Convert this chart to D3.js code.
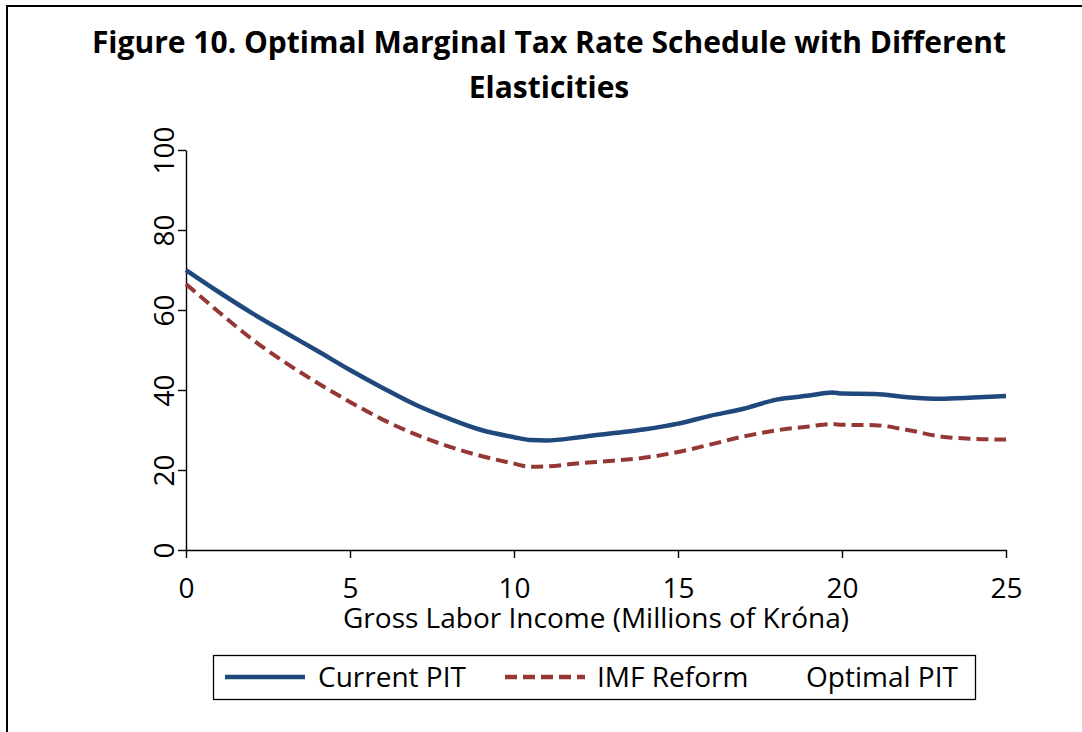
<!DOCTYPE html>
<html>
<head>
<meta charset="utf-8">
<script src="https://cdn.jsdelivr.net/npm/d3@7"></script>
<style>
  body { margin: 0; background: #fff; }
  svg { display: block; font-family: "Open Sans", "Noto Sans", sans-serif; }
</style>
</head>
<body>
<div id="chart"></div>
<script>
// income points, millions of króna
const income = [0, 1, 2, 3, 4, 5, 6, 7, 8, 9, 10, 10.5, 11, 12, 13, 14, 15, 16, 17, 18, 19, 19.7, 20, 21, 22, 23, 24, 25];
const currentPIT = [70, 64.5, 59.3, 54.5, 49.8, 45, 40.5, 36.3, 32.9, 30, 28.2, 27.5, 27.4, 28.2, 29.2, 30.2, 31.6, 33.6, 35.3, 37.6, 38.6, 39.4, 39.1, 39, 38.2, 37.8, 38.1, 38.5];
const imfReform = [66.5, 59.5, 52.8, 47, 41.8, 37, 32.6, 28.9, 25.9, 23.5, 21.6, 20.8, 20.9, 21.7, 22.3, 23.1, 24.5, 26.4, 28.4, 29.9, 30.9, 31.5, 31.3, 31.2, 30, 28.4, 27.8, 27.6];
const xTicks = [0, 5, 10, 15, 20, 25];
const yTicks = [0, 20, 40, 60, 80, 100];
const titleLines = ["Figure 10. Optimal Marginal Tax Rate Schedule with Different", "Elasticities"];
const xLabel = "Gross Labor Income (Millions of Króna)";
const legendNames = ["Current PIT", "IMF Reform", "Optimal PIT"];

const width = 1082, height = 732;
const margin = {top: 150, right: 76, bottom: 182, left: 186};
const blue = "#1f497d", red = "#953735";
const fontSize = "28px";

const svg = d3.select("#chart").append("svg")
    .attr("width", width)
    .attr("height", height);

// outer frame (only top and left edges are visible in the crop)
svg.append("path")
    .attr("d", `M7,${height} L7,6 L${width},6`)
    .attr("fill", "none")
    .attr("stroke", "#000")
    .attr("stroke-width", 2);

// title
svg.append("g")
    .selectAll("text")
    .data(titleLines)
    .join("text")
    .attr("x", 549)
    .attr("y", (d, i) => 53 + i * 45)
    .attr("text-anchor", "middle")
    .style("font-size", "30px")
    .style("font-weight", "bold")
    .text(d => d);

const x = d3.scaleLinear().domain([0, 25]).range([margin.left, width - margin.right]);
const y = d3.scaleLinear().domain([0, 100]).range([height - margin.bottom, margin.top]);

// axes
const xAxis = svg.append("g")
    .attr("transform", `translate(0,${y(0)})`)
    .call(d3.axisBottom(x).tickValues(xTicks).tickSize(8).tickSizeOuter(0).tickFormat(d3.format("d")))
    .attr("font-family", null)
    .attr("font-size", null);

xAxis.selectAll("text")
    .attr("y", 48)
    .attr("dy", 0)
    .attr("fill", "#000")
    .style("font-size", fontSize);

const yAxis = svg.append("g")
    .attr("transform", `translate(${x(0)},0)`)
    .call(d3.axisLeft(y).tickValues(yTicks).tickSize(8).tickSizeOuter(0).tickFormat(d3.format("d")))
    .attr("font-family", null)
    .attr("font-size", null);

yAxis.selectAll("text")
    .attr("x", 0)
    .attr("dy", 0)
    .attr("text-anchor", "middle")
    .attr("transform", "translate(-12,0) rotate(-90)")
    .attr("fill", "#000")
    .style("font-size", fontSize);

svg.selectAll(".domain, .tick line")
    .attr("stroke", "#000")
    .attr("stroke-width", 1.4);

svg.append("text")
    .attr("x", (x(0) + x(25)) / 2)
    .attr("y", 628)
    .attr("text-anchor", "middle")
    .style("font-size", fontSize)
    .text(xLabel);

// lines
const line = d3.line()
    .x((d, i) => x(income[i]))
    .y(d => y(d))
    .curve(d3.curveMonotoneX);

svg.append("path")
    .datum(imfReform)
    .attr("fill", "none")
    .attr("stroke", red)
    .attr("stroke-width", 4)
    .attr("stroke-dasharray", "12,6")
    .attr("d", line);

svg.append("path")
    .datum(currentPIT)
    .attr("fill", "none")
    .attr("stroke", blue)
    .attr("stroke-width", 4.5)
    .attr("d", line);

// legend
const legend = svg.append("g");

legend.append("rect")
    .attr("x", 213.5)
    .attr("y", 655.5)
    .attr("width", 762)
    .attr("height", 44)
    .attr("fill", "#fff")
    .attr("stroke", "#000")
    .attr("stroke-width", 1.3);

const items = [
    {name: legendNames[0], color: blue, dash: null, x0: 225, tx: 318},
    {name: legendNames[1], color: red, dash: "12,6", x0: 505, tx: 597},
    {name: legendNames[2], color: null, dash: null, x0: 0, tx: 806}
];

items.forEach(d => {
    if (d.color) {
        legend.append("line")
            .attr("x1", d.x0)
            .attr("x2", d.x0 + 80)
            .attr("y1", 677)
            .attr("y2", 677)
            .attr("stroke", d.color)
            .attr("stroke-width", 4.5)
            .attr("stroke-dasharray", d.dash);
    }
    legend.append("text")
        .attr("x", d.tx)
        .attr("y", 687)
        .style("font-size", fontSize)
        .text(d.name);
});
</script>
</body>
</html>
